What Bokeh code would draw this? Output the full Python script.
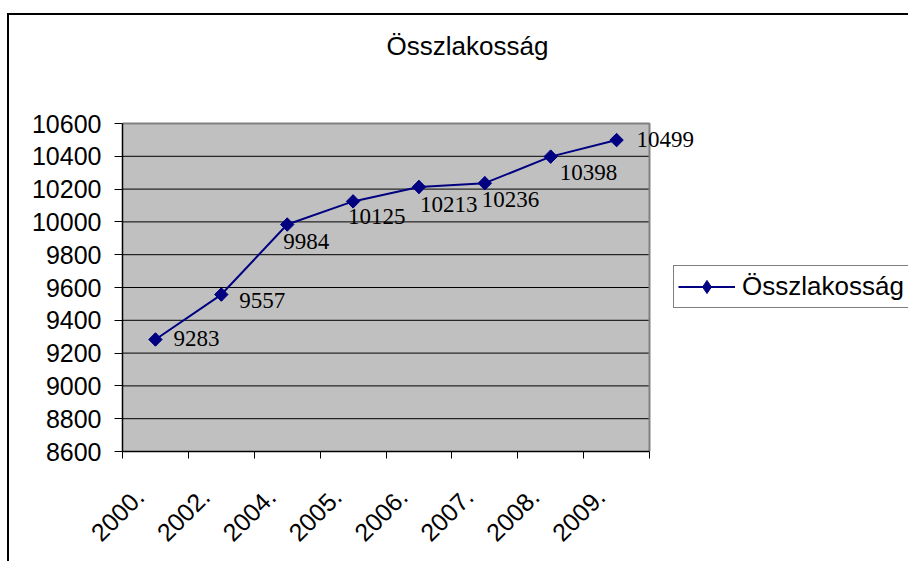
import math
from bokeh.plotting import figure
from bokeh.models import (ColumnDataSource, FixedTicker, Legend, LegendItem, Label, Range1d)
from bokeh.core.properties import value
from bokeh.embed import file_html
from bokeh.resources import INLINE

# ---- data ----
years = ["2000.", "2002.", "2004.", "2005.", "2006.", "2007.", "2008.", "2009."]
population = [9283, 9557, 9984, 10125, 10213, 10236, 10398, 10499]
series_name = "Összlakosság"
y_ticks = [8600, 8800, 9000, 9200, 9400, 9600, 9800, 10000, 10200, 10400, 10600]

# label placement (style only, pixels)
label_dx = [18, 18, -4, -5, 1, -3, 9, 20]
label_dy = [-1, 6, 17, 15, 18, 16, 16, -1]

# ---- layout (pixels) ----
W, H = 908, 561
PL, PR, PT, PB = 122, 649, 123, 451      # grey plot-area box
n = len(years)
x_end = n * (W - PL) / (PR - PL)
y_end = y_ticks[-1] + (y_ticks[-1] - y_ticks[0]) * PT / (PB - PT)
px_per_cat = (PR - PL) / n
tick_label_shift = 16 / px_per_cat        # rotated labels sit slightly left of centre

xs = [i + 0.5 for i in range(n)]
label_ticks = [x - tick_label_shift for x in xs]
src = ColumnDataSource(dict(x=xs, y=population, lab=[str(v) for v in population],
                            dx=label_dx, dy=label_dy))

SANS = "Liberation Sans"
SERIF = "Liberation Serif"

p = figure(width=W, height=H, output_backend="svg", toolbar_location=None, title=None,
           x_range=Range1d(0, x_end), y_range=Range1d(y_ticks[0], y_end),
           min_border_left=PL, min_border_right=0, min_border_top=0,
           min_border_bottom=H - PB)
p.border_fill_alpha = 0
p.background_fill_alpha = 0
p.outline_line_color = None
p.styles = {
    "background-color": "white",
    "background-image": "linear-gradient(#000,#000), linear-gradient(#000,#000)",
    "background-size": "2px 100%, 100% 2px",
    "background-position": "7px 13px, 7px 13px",
    "background-repeat": "no-repeat",
}

# grey plot area, grid lines and its grey edges
p.quad(left=0, right=n, bottom=y_ticks[0], top=y_ticks[-1],
       fill_color="#C0C0C0", line_color=None)
p.segment(x0=[0] * (len(y_ticks) - 1), x1=[n] * (len(y_ticks) - 1),
          y0=y_ticks[1:], y1=y_ticks[1:], line_color="black", line_width=1)
p.line(x=[0, n, n], y=[y_ticks[-1], y_ticks[-1], y_ticks[0]],
       line_color="#808080", line_width=2)

# axes
p.xaxis.bounds = (0, n)
p.xaxis.ticker = FixedTicker(ticks=label_ticks, minor_ticks=list(range(n + 1)))
p.xaxis.major_label_overrides = {x: y for x, y in zip(label_ticks, years)}
p.xaxis.major_tick_line_color = None
p.xaxis.minor_tick_line_color = "black"
p.xaxis.minor_tick_out = 7
p.xaxis.minor_tick_in = 0
p.xaxis.major_label_orientation = math.pi / 4
p.xaxis.major_label_standoff = 34
p.xaxis.major_label_text_font = SANS
p.xaxis.major_label_text_font_size = "25px"
p.xaxis.major_label_text_color = "black"
p.xaxis.axis_line_color = "black"
p.xaxis.axis_line_width = 1.5

p.yaxis.bounds = (y_ticks[0], y_ticks[-1])
p.yaxis.ticker = FixedTicker(ticks=y_ticks, minor_ticks=[])
p.yaxis.major_tick_out = 8
p.yaxis.major_tick_in = 0
p.yaxis.major_tick_line_color = "black"
p.yaxis.major_label_standoff = 13
p.yaxis.major_label_text_font = SANS
p.yaxis.major_label_text_font_size = "25px"
p.yaxis.major_label_text_color = "black"
p.yaxis.axis_line_color = "black"
p.yaxis.axis_line_width = 1.5

p.xgrid.visible = False
p.ygrid.visible = False

# series
line_r = p.line("x", "y", source=src, line_color="#000080", line_width=2)
# diamond used by the legend; it lies fully under the drawn markers
legend_pt = p.scatter("x", "y", source=src, marker="diamond", size=13,
                      fill_color="#000080", line_color="#000080")
pts_r = p.scatter("x", "y", source=src, marker="square", angle=math.pi / 4, size=9.5,
                  fill_color="#000080", line_color="#000080")
p.text("x", "y", text="lab", source=src, x_offset="dx", y_offset="dy",
       text_font=value(SERIF), text_font_size="23px", text_color="black",
       text_align="left", text_baseline="middle")

legend = Legend(items=[LegendItem(label=series_name, renderers=[line_r, legend_pt])],
                location=(673 - PL, PB - 308), orientation="vertical")
legend.border_line_color = "black"
legend.border_line_width = 1
legend.background_fill_color = "white"
legend.background_fill_alpha = 1
legend.padding = 4
legend.margin = 0
legend.spacing = 0
legend.glyph_width = 57
legend.glyph_height = 33
legend.label_height = 26
legend.label_standoff = 7
legend.label_text_font = SANS
legend.label_text_font_size = "26px"
legend.label_text_color = "black"
legend.label_text_baseline = "middle"
p.add_layout(legend, "center")

# title
p.add_layout(Label(x=467 - PL, y=PB - 45, x_units="screen", y_units="screen",
                   text=series_name, text_font=SANS, text_font_size="26px",
                   text_color="black", text_align="center", text_baseline="middle"))

open("out.html", "w").write(file_html(p, INLINE))
